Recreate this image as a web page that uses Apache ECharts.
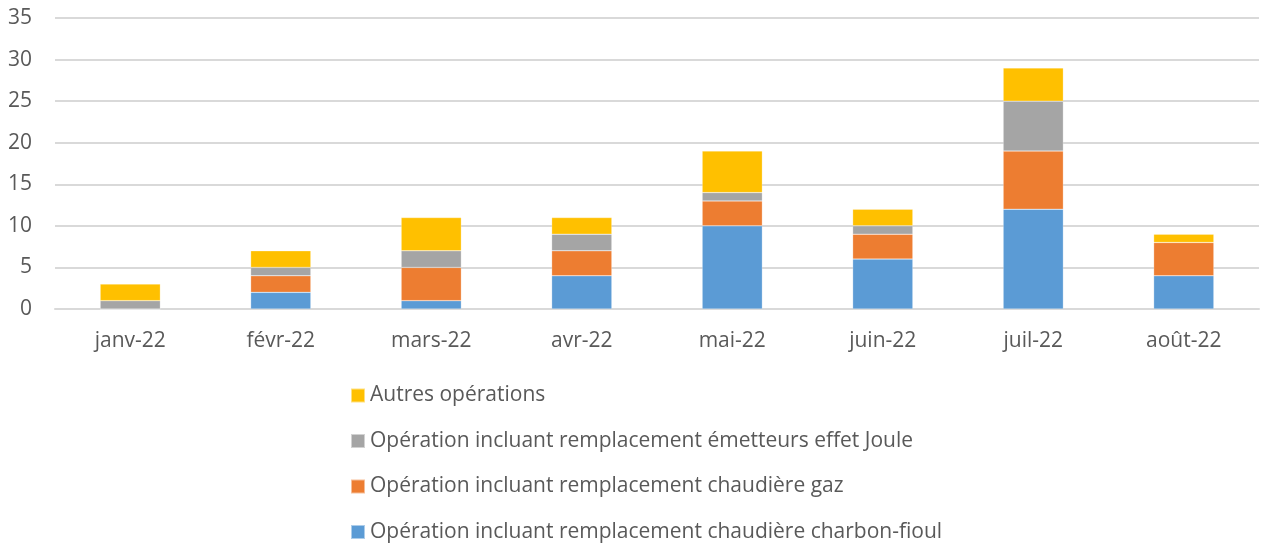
<!DOCTYPE html>
<html>
<head>
<meta charset="utf-8">
<script src="https://cdn.jsdelivr.net/npm/echarts@6/dist/echarts.min.js"></script>
<style>
  html, body { margin: 0; padding: 0; background: #fff; }
  #chart { width: 1263px; height: 545px; }
</style>
</head>
<body>
<div id="chart"></div>
<script>
var mois = ['janv-22', 'févr-22', 'mars-22', 'avr-22', 'mai-22', 'juin-22', 'juil-22', 'août-22'];
var charbonFioul = [0, 2, 1, 4, 10, 6, 12, 4];
var gaz = [0, 2, 4, 3, 3, 3, 7, 4];
var joule = [1, 1, 2, 2, 1, 1, 6, 0];
var autres = [2, 2, 4, 2, 5, 2, 4, 1];

var noms = [
    'Opération incluant remplacement chaudière charbon-fioul',
    'Opération incluant remplacement chaudière gaz',
    'Opération incluant remplacement émetteurs effet Joule',
    'Autres opérations'
];

var police = 'Open Sans';
var gris = '#595959';

var ec = echarts.init(document.getElementById('chart'));

function barre(nom, data, couleur) {
    return {
        name: nom,
        type: 'bar',
        stack: 'total',
        barCategoryGap: '60%',
        data: data,
        itemStyle: { color: couleur, borderColor: 'rgba(255,255,255,0.5)', borderWidth: 0.5 }
    };
}

var option = {
    animation: false,
    textStyle: { fontFamily: police },
    grid: { left: 55, right: 4, top: 18, bottom: 236 },
    legend: {
        orient: 'vertical',
        left: 350,
        top: 385,
        padding: 0,
        width: 900,
        itemWidth: 14,
        itemHeight: 14,
        itemGap: 24.5,
        icon: 'rect',
        textStyle: { color: gris, fontSize: 21, lineHeight: 21, fontFamily: police },
        data: [noms[3], noms[2], noms[1], noms[0]]
    },
    xAxis: {
        type: 'category',
        data: mois,
        axisLine: { lineStyle: { color: '#d9d9d9', width: 2 } },
        axisTick: { show: false },
        axisLabel: { color: gris, fontSize: 21, margin: 22 }
    },
    yAxis: {
        type: 'value',
        min: 0,
        max: 35,
        interval: 5,
        axisLine: { show: false },
        axisTick: { show: false },
        axisLabel: { color: gris, fontSize: 21, margin: 23 },
        splitLine: { lineStyle: { color: '#d9d9d9', width: 2 } }
    },
    series: [
        barre(noms[0], charbonFioul, '#5B9BD5'),
        barre(noms[1], gaz, '#ED7D31'),
        barre(noms[2], joule, '#A5A5A5'),
        barre(noms[3], autres, '#FFC000')
    ]
};

ec.setOption(option);
</script>
</body>
</html>
